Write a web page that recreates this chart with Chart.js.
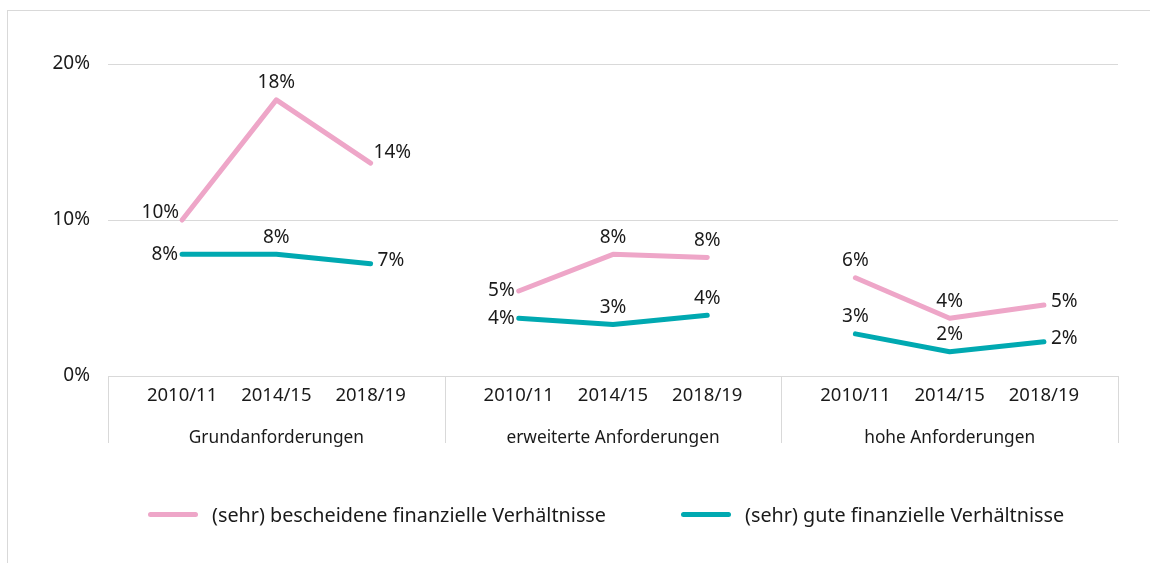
<!DOCTYPE html>
<html>
<head>
<meta charset="utf-8">
<script src="https://cdn.jsdelivr.net/npm/chart.js@4.4.0/dist/chart.umd.min.js"></script>
<style>
    body { margin: 0; background: #fff; font-family: "Noto Sans", sans-serif; }
    #wrap { position: relative; width: 1150px; height: 563px; overflow: hidden; }
    #frame { position: absolute; left: 7px; top: 10px; width: 1170px; height: 600px; border: 1px solid #d9d9d9; box-sizing: border-box; }
    canvas { position: absolute; left: 0; top: 0; }
    #legend { position: absolute; left: 148px; top: 501px; display: flex; align-items: center; font-size: 19.8px; color: #1a1a1a; white-space: nowrap; }
    .item { display: flex; align-items: center; margin-right: 75px; }
    .swatch { width: 50px; height: 5px; border-radius: 3px; margin-right: 14px; }
</style>
</head>
<body>
<div id="wrap">
    <div id="frame"></div>
    <canvas id="lineChart" width="1150" height="563"></canvas>
    <div id="legend"></div>
</div>
<script>
const groups = ['Grundanforderungen', 'erweiterte Anforderungen', 'hohe Anforderungen'];
const years = ['2010/11', '2014/15', '2018/19'];
const seriesNames = ['(sehr) bescheidene finanzielle Verhältnisse', '(sehr) gute finanzielle Verhältnisse'];
const modestValues = [10.0, 17.7, 13.65, 5.45, 7.8, 7.6, 6.3, 3.7, 4.55];
const goodValues = [7.8, 7.8, 7.2, 3.7, 3.3, 3.9, 2.7, 1.55, 2.2];

const pink = '#eea6c8';
const teal = '#00a9b1';
const gridColor = '#d9d9d9';
const textColor = '#1a1a1a';

// point position inside a group, in group units
const pointSpacing = 0.28;
function xPos(k) {
    const g = Math.floor(k / 3);
    const i = k % 3;
    return g + 0.5 + (i - 1) * pointSpacing;
}

// build {x, y} points, with a null between groups so the line breaks
function buildPoints(values) {
    const pts = [];
    values.forEach((v, k) => {
        if (k > 0 && k % 3 === 0) pts.push({ x: k / 3, y: null });
        pts.push({ x: xPos(k), y: v, k: k });
    });
    return pts;
}

const tickPositions = modestValues.map((v, k) => xPos(k));

// where each data label sits
const labelPlacement = [
    ['topleft', 'top', 'topright', 'left', 'top', 'top', 'top', 'top', 'right'],
    ['left', 'top', 'right', 'left', 'top', 'top', 'top', 'top', 'right']
];

const dataLabels = {
    id: 'dataLabels',
    afterDatasetsDraw(chart) {
        const ctx = chart.ctx;
        ctx.save();
        ctx.font = '19px "Noto Sans", sans-serif';
        ctx.fillStyle = textColor;
        ctx.textBaseline = 'middle';
        chart.data.datasets.forEach((ds, d) => {
            const meta = chart.getDatasetMeta(d);
            meta.data.forEach((el, j) => {
                const raw = ds.data[j];
                if (raw.y === null) return;
                const text = Math.round(raw.y) + '%';
                const pos = labelPlacement[d][raw.k];
                let x = el.x, y = el.y;
                if (pos === 'top') { ctx.textAlign = 'center'; y -= 17; }
                else if (pos === 'left') { ctx.textAlign = 'right'; x -= 4; }
                else if (pos === 'topleft') { ctx.textAlign = 'right'; x -= 3; y -= 7; }
                else if (pos === 'right') { ctx.textAlign = 'left'; x += 7; y -= 3; }
                else { ctx.textAlign = 'left'; x += 3; y -= 10; }
                ctx.fillText(text, x, y);
            });
        });
        ctx.restore();
    }
};

// separators and group names below the x axis
const groupAxis = {
    id: 'groupAxis',
    afterDraw(chart) {
        const ctx = chart.ctx;
        const xs = chart.scales.x;
        const bottom = chart.chartArea.bottom;
        ctx.save();
        ctx.strokeStyle = gridColor;
        ctx.lineWidth = 1;
        for (let g = 0; g <= groups.length; g++) {
            const x = Math.round(xs.getPixelForValue(g)) + 0.5;
            ctx.beginPath();
            ctx.moveTo(x, bottom);
            ctx.lineTo(x, bottom + 67);
            ctx.stroke();
        }
        ctx.font = '17.3px "Noto Sans", sans-serif';
        ctx.fillStyle = textColor;
        ctx.textAlign = 'center';
        ctx.textBaseline = 'middle';
        groups.forEach((name, g) => {
            ctx.fillText(name, xs.getPixelForValue(g + 0.5), bottom + 62);
        });
        ctx.restore();
    }
};

Chart.defaults.font.family = '"Noto Sans", sans-serif';
Chart.defaults.font.size = 19;
Chart.defaults.color = textColor;

const lineChartConfig = {
    type: 'line',
    data: {
        datasets: [
            {
                label: seriesNames[0],
                data: buildPoints(modestValues),
                borderColor: pink,
                backgroundColor: pink
            },
            {
                label: seriesNames[1],
                data: buildPoints(goodValues),
                borderColor: teal,
                backgroundColor: teal
            }
        ]
    },
    options: {
        responsive: false,
        animation: false,
        layout: {
            padding: { top: 64, right: 32, bottom: 117, left: 0 }
        },
        elements: {
            line: { borderWidth: 5, borderCapStyle: 'round', borderJoinStyle: 'round', tension: 0 },
            point: { radius: 0, hoverRadius: 0 }
        },
        spanGaps: false,
        plugins: {
            legend: { display: false },
            tooltip: { enabled: false }
        },
        scales: {
            x: {
                type: 'linear',
                min: 0,
                max: groups.length,
                grid: { display: false },
                border: { display: false },
                afterBuildTicks: (axis) => {
                    axis.ticks = tickPositions.map(v => ({ value: v }));
                },
                afterFit: (axis) => { axis.height = 70; },
                ticks: {
                    autoSkip: false,
                    maxRotation: 0,
                    padding: 1,
                    font: { size: 18.5 },
                    callback: (value, index) => years[index % years.length]
                }
            },
            y: {
                min: 0,
                max: 20,
                grid: { color: gridColor, drawTicks: false },
                border: { display: false },
                afterFit: (axis) => { axis.width = 108; },
                ticks: {
                    stepSize: 10,
                    padding: 18,
                    callback: (value) => value + '%'
                }
            }
        }
    },
    plugins: [dataLabels, groupAxis]
};

window.onload = function () {
    const ctx = document.getElementById('lineChart').getContext('2d');
    const chart = new Chart(ctx, lineChartConfig);

    const legend = document.getElementById('legend');
    chart.data.datasets.forEach(ds => {
        const item = document.createElement('div');
        item.className = 'item';
        const swatch = document.createElement('span');
        swatch.className = 'swatch';
        swatch.style.background = ds.borderColor;
        const label = document.createElement('span');
        label.textContent = ds.label;
        item.appendChild(swatch);
        item.appendChild(label);
        legend.appendChild(item);
    });
};
</script>
</body>
</html>
